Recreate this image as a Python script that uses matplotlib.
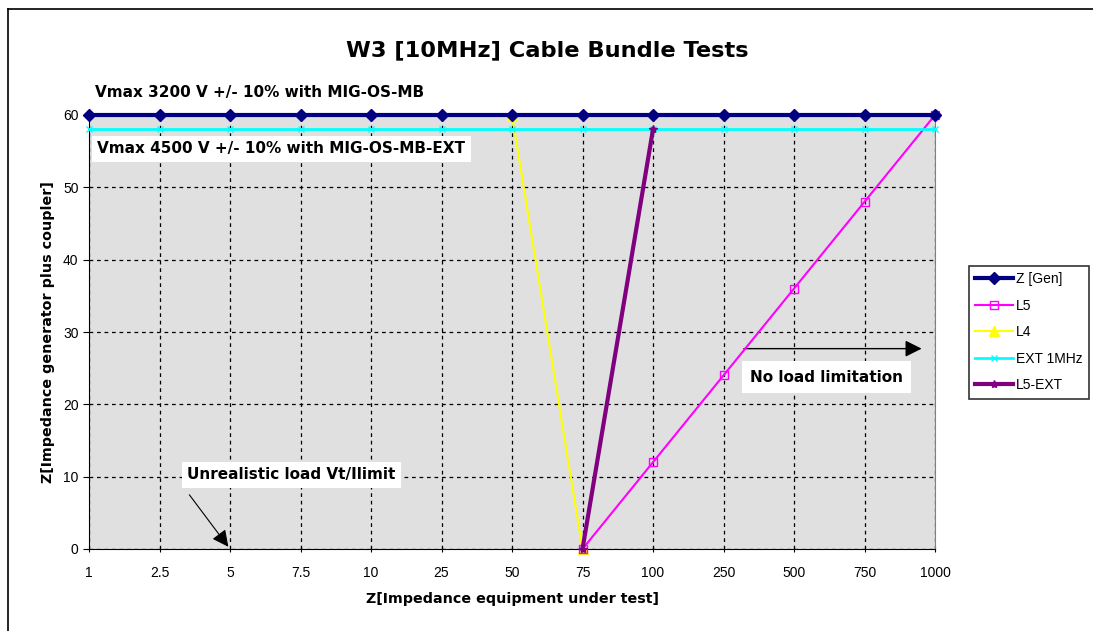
import numpy as np
import matplotlib.pyplot as plt
from matplotlib.lines import Line2D

plt.rcParams['font.family'] = ['Liberation Sans', 'DejaVu Sans']

categories = ['1', '2.5', '5', '7.5', '10', '25', '50', '75', '100', '250', '500', '750', '1000']
z_gen = [60] * 13
ext_1mhz = [58] * 13
l5_cats = ['75', '100', '250', '500', '750', '1000']
l5 = [0, 12, 24, 36, 48, 60]
l4_cats = ['50', '75']
l4 = [60, 0]
l5ext_cats = ['75', '100']
l5ext = [0, 58]

pos = {c: i for i, c in enumerate(categories)}
wide = ['DejaVu Sans']

fig = plt.figure(figsize=(10.93, 6.31), dpi=100)
ax = fig.add_axes([89 / 1093, 1 - 549 / 631, (935 - 89) / 1093, (549 - 115) / 631])
ax.set_facecolor('#e0e0e0')

x_all = np.arange(len(categories))
ax.plot(x_all, z_gen, color='#000080', lw=3, marker='D', ms=6, label='Z [Gen]', clip_on=False, zorder=5)
ax.plot([pos[c] for c in l5_cats], l5, color='#ff00ff', lw=1.5, marker='s', ms=6,
        mfc='none', mec='#ff00ff', label='L5', clip_on=False, zorder=4)
ax.plot([pos[c] for c in l4_cats], l4, color='#ffff00', lw=1.5, marker='^', ms=7,
        label='L4', clip_on=False, zorder=3)
ax.plot(x_all, ext_1mhz, color='#00ffff', lw=2, marker='x', ms=5, label='EXT 1MHz',
        clip_on=False, zorder=4)
ax.plot([pos[c] for c in l5ext_cats], l5ext, color='#800080', lw=3, marker='*', ms=6,
        label='L5-EXT', clip_on=False, zorder=4)

ax.set_xlim(0, 12)
ax.set_ylim(0, 60)
ax.set_xticks(x_all)
ax.set_xticklabels(categories, fontsize=10)
ax.set_yticks(range(0, 61, 10))
ax.tick_params(axis='y', labelsize=10, length=4, direction='out')
ax.tick_params(axis='x', length=4, direction='inout', pad=10)
ax.grid(True, color='black', ls=(0, (3, 3)), lw=0.9)
ax.set_axisbelow(True)
for s in ['top', 'right']:
    ax.spines[s].set_color('#808080')
for s in ['left', 'bottom']:
    ax.spines[s].set_color('black')

fig.text(547 / 1093, 1 - 50 / 631, 'W3 [10MHz] Cable Bundle Tests', fontsize=16.2,
         fontweight='bold', ha='center', va='center', family=wide)
ax.set_xlabel('Z[Impedance equipment under test]', fontsize=10.3, fontweight='bold',
              labelpad=9, family=wide)
ax.set_ylabel('Z[Impedance generator plus coupler]', fontsize=10.3, fontweight='bold',
              labelpad=6, family=wide)

fig.text(95 / 1093, 1 - 92 / 631, 'Vmax 3200 V +/- 10% with MIG-OS-MB', fontsize=11,
         fontweight='bold', va='center', family=wide)
fig.text(97 / 1093, 1 - 149 / 631, 'Vmax 4500 V +/- 10% with MIG-OS-MB-EXT', fontsize=11,
         fontweight='bold', va='center', zorder=10, family=wide,
         bbox=dict(facecolor='white', edgecolor='none', pad=4))
fig.text(187 / 1093, 1 - 475 / 631, 'Unrealistic load Vt/Ilimit', fontsize=11,
         fontweight='bold', va='center', zorder=10, family=wide,
         bbox=dict(facecolor='white', edgecolor='none', pad=4))
fig.text(750 / 1093, 1 - 377 / 631, 'No load limitation', fontsize=11,
         fontweight='bold', va='center', zorder=10, family=wide,
         bbox=dict(facecolor='white', edgecolor='none', pad=6))

ax.annotate('', xy=(2, 0), xytext=(1.4, 7.8),
            arrowprops=dict(arrowstyle='-|>', color='black', lw=0.8, mutation_scale=25))
ax.annotate('', xy=(11.85, 27.7), xytext=(9.25, 27.7),
            arrowprops=dict(arrowstyle='-|>', color='black', lw=1, mutation_scale=25))

leg = fig.legend(loc='upper left', bbox_to_anchor=(969 / 1093, 1 - 266 / 631), fontsize=10,
                 frameon=True, fancybox=False, edgecolor='black', handlelength=2.7,
                 borderpad=0.45, labelspacing=0.9, handletextpad=0.25, borderaxespad=0)
leg.get_frame().set_linewidth(1.2)

fig.add_artist(Line2D([8 / 1093, 8 / 1093], [0, 1 - 9 / 631], color='black', lw=1.2))
fig.add_artist(Line2D([8 / 1093, 1], [1 - 9 / 631, 1 - 9 / 631], color='black', lw=1.2))

fig.savefig('out.png', dpi=100)
